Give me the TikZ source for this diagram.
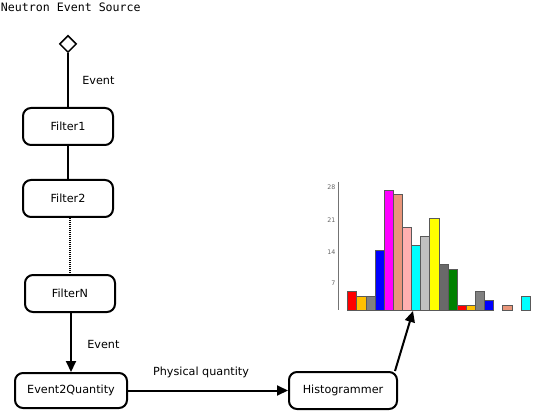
\documentclass[tikz,border=0pt]{standalone}
\usepackage{fontspec}
\setmainfont{DejaVu Sans}
\setmonofont{DejaVu Sans Mono}
\usetikzlibrary{arrows.meta, shapes.geometric}
\definecolor{barRed}{RGB}{255,0,0}
\definecolor{barGold}{RGB}{255,192,0}
\definecolor{barGray}{RGB}{128,128,128}
\definecolor{barBlue}{RGB}{0,0,255}
\definecolor{barMagenta}{RGB}{255,0,255}
\definecolor{barSalmon}{RGB}{233,150,122}
\definecolor{barPink}{RGB}{255,176,176}
\definecolor{barCyan}{RGB}{0,255,255}
\definecolor{barSilver}{RGB}{192,192,192}
\definecolor{barYellow}{RGB}{255,255,0}
\definecolor{barDim}{RGB}{105,105,105}
\definecolor{barGreen}{RGB}{0,128,0}

\begin{document}
\begin{tikzpicture}[x=1pt, y=-1pt, line width=2pt,
    stage/.style={draw, rounded corners=8pt, minimum height=37pt, inner sep=0pt,
                  font=\fontsize{11.2}{13}\selectfont},
    lbl/.style={font=\fontsize{11.2}{13}\selectfont},
    flow/.style={-{Triangle[length=11pt, width=10pt]}},
    tick/.style={font=\fontsize{6.3}{7}\selectfont, text=black!60, inner sep=0pt, anchor=east}]
    \useasboundingbox (0,0) rectangle (537,411);

    % Source and filter chain
    \node[font=\ttfamily\fontsize{11.6}{13}\selectfont, anchor=west, inner sep=0pt] (title) at (0,7) {Neutron Event Source};
    \node[draw, diamond, minimum size=17pt, inner sep=0pt, line width=1.5pt] (src) at (68,44) {};
    \node[stage, minimum width=90pt] (filter1) at (68,126.5) {Filter1};
    \node[stage, minimum width=90pt] (filter2) at (68,198.5) {Filter2};
    \node[stage, minimum width=90pt] (filterN) at (70,293.5) {FilterN};

    % Conversion and histogramming
    \node[stage, minimum width=112pt, minimum height=35pt] (e2q) at (71,390.5) {Event2Quantity};
    \node[stage, minimum width=108pt] (histo) at (343,390.5) {Histogrammer};
    \coordinate (plot) at (413,311);

    % Connectors
    \draw (src) -- (filter1) node[lbl, midway, right=10pt] {Event};
    \draw (filter1) -- (filter2);
    \draw[dash pattern=on 1pt off 1pt] (filter2.south -| filterN.north) -- (filterN.north);
    \draw[flow] (filterN.south -| e2q.north) -- (e2q.north) node[lbl, midway, right=12pt, yshift=-2pt] {Event};
    \draw[flow] (e2q) -- (histo) node[lbl, midway, above=8pt, xshift=-7pt] {Physical quantity};
    \draw[flow] ([xshift=-3pt]histo.north east) -- (plot);

    % Histogram
    \draw[line width=0.8pt, black!55] (338,182) -- (338,310);
    \foreach \t/\y in {28/187, 21/220, 14/252, 7/283}
        \node[tick] (tick\t) at (336.5,\y) {\t};
    \foreach \v/\c [count=\i] in {4.2/barRed, 3/barGold, 3/barGray, 13.6/barBlue, 27.1/barMagenta,
            26.2/barSalmon, 18.8/barPink, 14.6/barCyan, 16.8/barSilver, 20.9/barYellow,
            10.4/barDim, 9.3/barGreen, 1.1/barRed, 1.1/barGold, 4.2/barGray, 2.1/barBlue,
            0/none, 1.1/barSalmon, 0/none, 3/barCyan}
    {
        \ifdim\v pt>0pt
            \draw[fill=\c, draw=black!65, line width=0.7pt]
                ({347.7+(\i-1)*9.12},310) rectangle ++(9.1,{-\v*4.4});
        \fi
    }
\end{tikzpicture}
\end{document}
